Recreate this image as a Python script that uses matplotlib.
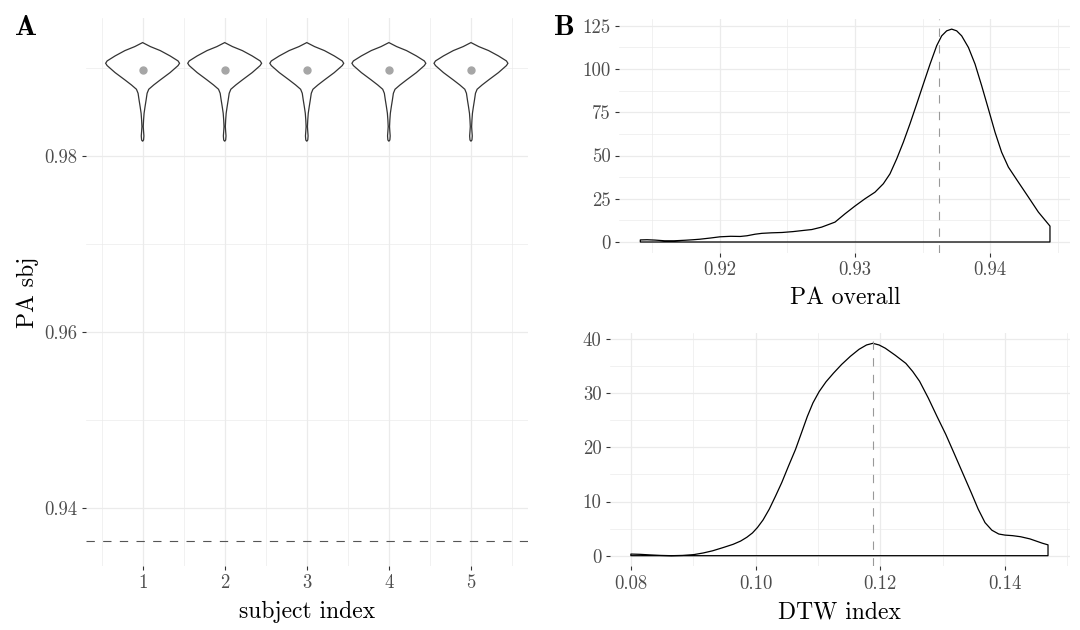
import numpy as np
import matplotlib
matplotlib.use("Agg")
import matplotlib.pyplot as plt

plt.rcParams['font.family'] = ['cmr10', 'DejaVu Serif']
plt.rcParams['axes.formatter.use_mathtext'] = True
plt.rcParams['lines.scale_dashes'] = False

# ---------------- data ----------------
subjects = [1, 2, 3, 4, 5]
subject_median = [0.98977, 0.98977, 0.98977, 0.98977, 0.98977]
pa_overall_mean = 0.93625

# violin profile (PA sbj level, half-width as share of slot)
violin_levels = [0.992879, 0.992424, 0.991970, 0.991364, 0.990795, 0.990530,
                 0.990265, 0.989470, 0.988636, 0.988068, 0.987576, 0.987121,
                 0.986364, 0.985606, 0.984848, 0.984091, 0.983333, 0.982765,
                 0.982273, 0.981818, 0.981667]
violin_halfwidth = [0.0, 0.095, 0.215, 0.335, 0.432, 0.45,
                    0.432, 0.335, 0.215, 0.136, 0.075, 0.055,
                    0.043, 0.030, 0.018, 0.012, 0.008, 0.012,
                    0.016, 0.012, 0.0]

# density of PA overall
pa_x = [0.9141, 0.9146, 0.9152, 0.9159, 0.9166, 0.9174, 0.9180, 0.9185, 0.9193,
        0.9200, 0.9208, 0.9215, 0.9220, 0.9226, 0.9231, 0.9238, 0.9246, 0.9254,
        0.9262, 0.9268, 0.92753, 0.92852, 0.92926, 0.93000, 0.93074, 0.93148,
        0.93210, 0.93259, 0.93309, 0.93358, 0.93407, 0.93457, 0.93506, 0.93556,
        0.93605, 0.93642, 0.93679, 0.93716, 0.93753, 0.93790, 0.93840, 0.93889,
        0.93938, 0.93988, 0.94037, 0.94086, 0.94136, 0.94210, 0.94284, 0.94358,
        0.94444]
pa_density = [1.2, 1.3, 1.1, 0.7, 0.7, 1.0, 1.3, 1.6, 2.3,
              3.0, 3.3, 3.2, 3.6, 4.5, 5.0, 5.3, 5.5, 6.0,
              6.7, 7.2, 8.6, 11.5, 16.3, 20.8, 25.0, 28.8,
              33.7, 39.4, 48.1, 57.7, 68.3, 79.8, 91.3, 102.9,
              113.5, 119.2, 122.1, 123.1, 122.1, 119.2, 112.5, 102.9,
              90.4, 76.9, 63.5, 51.9, 43.3, 34.6, 26.0, 17.3,
              9.2]

# density of DTW index
dtw_x = [0.0800, 0.0815, 0.0830, 0.0848, 0.0865, 0.0883, 0.0901, 0.0916, 0.0931,
         0.0948, 0.0964, 0.0976, 0.0986, 0.0995, 0.1003, 0.1012, 0.1022, 0.1032,
         0.1042, 0.1053, 0.1064, 0.1074, 0.1083, 0.1092, 0.1102, 0.1113, 0.1125,
         0.1138, 0.1152, 0.1166, 0.1178, 0.1188, 0.1198, 0.1208, 0.1224, 0.1241,
         0.1252, 0.1263, 0.1277, 0.1291, 0.1305, 0.1318, 0.1332, 0.1346, 0.1357,
         0.1368, 0.1379, 0.1390, 0.1400, 0.1412, 0.1425, 0.1440, 0.1450, 0.1460,
         0.1469]
dtw_density = [0.3, 0.25, 0.15, 0.05, 0.0, 0.05, 0.2, 0.5, 0.9,
               1.5, 2.1, 2.7, 3.4, 4.2, 5.2, 6.6, 8.6, 11.0,
               13.5, 16.6, 19.6, 22.8, 25.7, 28.2, 30.3, 32.1, 33.7,
               35.3, 36.8, 38.1, 38.9, 39.2, 38.9, 38.3, 37.0, 35.5,
               34.0, 32.2, 29.1, 25.7, 22.4, 19.0, 15.3, 11.6, 8.6,
               6.1, 4.7, 4.0, 3.8, 3.7, 3.5, 3.1, 2.7, 2.3,
               2.0]
dtw_mean = 0.1188

a_yticks = [0.94, 0.96, 0.98]
a_yticklabels = ["0.94", "0.96", "0.98"]
b_xticks = [0.92, 0.93, 0.94]
b_xticklabels = ["0.92", "0.93", "0.94"]
b_yticks = [0, 25, 50, 75, 100, 125]
c_xticks = [0.08, 0.10, 0.12, 0.14]
c_xticklabels = ["0.08", "0.10", "0.12", "0.14"]
c_yticks = [0, 10, 20, 30, 40]

# ---------------- style ----------------
GRID = "#EBEBEB"
TICKC = "#4D4D4D"
TICK_FS = 13.5
LAB_FS = 17


def style(ax, xmajor, xminor, ymajor, yminor):
    for s in ax.spines.values():
        s.set_visible(False)
    ax.set_xticks(xmajor)
    ax.set_yticks(ymajor)
    for v in xminor:
        ax.axvline(v, color=GRID, lw=0.5, zorder=0)
    for v in yminor:
        ax.axhline(v, color=GRID, lw=0.5, zorder=0)
    for v in xmajor:
        ax.axvline(v, color=GRID, lw=0.9, zorder=0)
    for v in ymajor:
        ax.axhline(v, color=GRID, lw=0.9, zorder=0)
    ax.tick_params(axis='both', length=3, width=0.8, color="#333333",
                   labelcolor=TICKC, labelsize=TICK_FS, pad=3)


fig = plt.figure(figsize=(10.8, 6.3), dpi=100)

# ---------- panel A ----------
axA = fig.add_axes([0.0792, 0.1016, 0.4097, 0.8698])
axA.set_xlim(0.305, 5.695)
axA.set_ylim(0.93342, 0.99567)
style(axA, subjects, [0.5, 1.5, 2.5, 3.5, 4.5, 5.5], a_yticks, [0.95, 0.97, 0.99])
axA.set_xticklabels([str(s) for s in subjects])
axA.set_yticklabels(a_yticklabels)
lev = np.array(violin_levels)
hw = np.array(violin_halfwidth)
for s, m in zip(subjects, subject_median):
    xs = np.concatenate([s - hw, (s + hw)[::-1]])
    ys = np.concatenate([lev, lev[::-1]])
    axA.fill(xs, ys, facecolor="white", edgecolor="#333333", lw=0.9, zorder=2)
    axA.plot([s], [m], 'o', color="#A6A6A6", ms=5, zorder=3)
axA.axhline(pa_overall_mean, color="#555555", lw=0.8, linestyle=(0, (6, 6)), zorder=1)
axA.set_xlabel("subject index", fontsize=LAB_FS, labelpad=6)
axA.set_ylabel("PA sbj", fontsize=LAB_FS, labelpad=4)

# ---------- panel B ----------
axB = fig.add_axes([0.5735, 0.599, 0.4177, 0.3714])
axB.set_xlim(0.91255, 0.94596)
axB.set_ylim(-6.15, 129.15)
style(axB, b_xticks, [0.915, 0.925, 0.935, 0.945], b_yticks,
      [12.5, 37.5, 62.5, 87.5, 112.5])
axB.set_xticklabels(b_xticklabels)
axB.set_yticklabels([str(v) for v in b_yticks])
px = np.concatenate([[pa_x[0]], pa_x, [pa_x[-1]]])
py = np.concatenate([[0], pa_density, [0]])
axB.fill(px, py, facecolor="none", edgecolor="black", lw=0.9, zorder=2,
         joinstyle='round')
axB.axvline(pa_overall_mean, color="#999999", lw=0.8, linestyle=(0, (6, 6)), zorder=3)
axB.set_xlabel("PA overall", fontsize=LAB_FS, labelpad=6)

# ---------- panel C ----------
axC = fig.add_axes([0.5648, 0.1011, 0.4255, 0.3708])
axC.set_xlim(0.07665, 0.15035)
axC.set_ylim(-1.96, 41.16)
style(axC, c_xticks, [0.09, 0.11, 0.13, 0.15], c_yticks, [5, 15, 25, 35])
axC.set_xticklabels(c_xticklabels)
axC.set_yticklabels([str(v) for v in c_yticks])
dx = np.concatenate([[dtw_x[0]], dtw_x, [dtw_x[-1]]])
dy = np.concatenate([[0], dtw_density, [0]])
axC.fill(dx, dy, facecolor="none", edgecolor="black", lw=0.9, zorder=2,
         joinstyle='round')
axC.axvline(dtw_mean, color="#999999", lw=0.8, linestyle=(0, (6, 6)), zorder=3)
axC.set_xlabel("DTW index", fontsize=LAB_FS, labelpad=6)

# panel tags
fig.text(0.014, 0.955, "A", fontsize=21, fontfamily=['cmb10', 'DejaVu Serif'],
         fontweight='bold', va='center', ha='left')
fig.text(0.513, 0.955, "B", fontsize=21, fontfamily=['cmb10', 'DejaVu Serif'],
         fontweight='bold', va='center', ha='left')

fig.savefig("out.png", dpi=100)
